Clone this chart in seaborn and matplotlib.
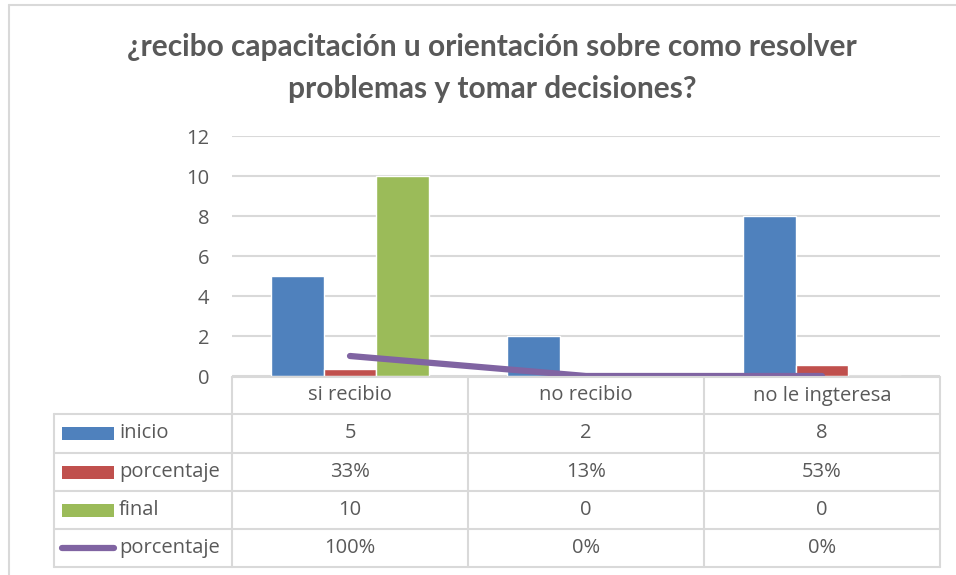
import matplotlib
matplotlib.use("Agg")
import matplotlib.pyplot as plt
from matplotlib.lines import Line2D
from matplotlib.patches import Rectangle
import seaborn as sns
import pandas as pd

categories = ["si recibio", "no recibio", "no le ingteresa"]
inicio = [5, 2, 8]
porcentaje_bar = [0.33, 0.13, 0.53]
final = [10, 0, 0]
porcentaje_line = [1.0, 0.0, 0.0]
series_names = ["inicio", "porcentaje", "final", "porcentaje"]
table_rows = [
    ["5", "2", "8"],
    ["33%", "13%", "53%"],
    ["10", "0", "0"],
    ["100%", "0%", "0%"],
]
title = "¿recibo capacitación u orientación sobre como resolver\nproblemas y tomar decisiones?"

C_BLUE = "#4F81BD"
C_RED = "#C0504D"
C_GREEN = "#9BBB59"
C_PURPLE = "#8064A2"
C_TEXT = "#595959"
C_GRID = "#D9D9D9"

sns.set_theme(style="white")
plt.rcParams["font.family"] = ["Lato", "DejaVu Sans"]

W, H = 956, 575
fig = plt.figure(figsize=(W / 100, H / 100), dpi=100)

def fx(px):
    return px / W

def fy(py):
    return 1 - py / H

# plot area
x0, x1, ytop, ybot = 232, 940, 136, 376
ax = fig.add_axes([fx(x0), fy(ybot), fx(x1 - x0), (ybot - ytop) / H])

df = pd.DataFrame({
    "cat": categories * 3,
    "val": inicio + porcentaje_bar + final,
    "series": ["inicio"] * 3 + ["porcentaje"] * 3 + ["final"] * 3,
})
sns.barplot(data=df, x="cat", y="val", hue="series", order=categories,
            hue_order=["inicio", "porcentaje", "final"],
            palette=[C_BLUE, C_RED, C_GREEN], width=0.67, gap=0,
            saturation=1, legend=False, ax=ax, zorder=3)
ax.plot(range(len(categories)), porcentaje_line, color=C_PURPLE, lw=4.5,
        solid_capstyle="round", zorder=4)

ax.set_xlim(-0.5, 2.5)
ax.set_ylim(0, 12)
ax.set_yticks(range(0, 13, 2))
ax.set_xticks([])
ax.set_xlabel("")
ax.set_ylabel("")
ax.yaxis.grid(True, color=C_GRID, lw=1.5, zorder=0)
ax.set_axisbelow(True)
for s in ax.spines.values():
    s.set_visible(False)
ax.tick_params(axis="y", length=0, pad=16.5, labelsize=14.5, labelcolor=C_TEXT)
for lab in ax.get_yticklabels():
    lab.set_fontfamily(["Open Sans", "DejaVu Sans"])

# title
fig.text(fx(492), fy(68), title, ha="center", va="center", fontsize=21.5,
         fontweight="bold", color=C_TEXT, linespacing=1.58)

# frame
fig.add_artist(Line2D([fx(9), fx(9)], [fy(5), fy(580)], color=C_GRID, lw=1.5))
fig.add_artist(Line2D([fx(9), fx(960)], [fy(5), fy(5)], color=C_GRID, lw=1.5))

# data table
col_x = [232, 468, 704, 940]
row_y = [377, 414, 453, 491, 529, 567]
left_x = 54

def hline(y, xa, xb):
    fig.add_artist(Line2D([fx(xa), fx(xb)], [fy(y), fy(y)], color=C_GRID, lw=1.5))

def vline(x, ya, yb):
    fig.add_artist(Line2D([fx(x), fx(x)], [fy(ya), fy(yb)], color=C_GRID, lw=1.5))

hline(row_y[0], col_x[0], col_x[-1])
for y in row_y[1:]:
    hline(y, left_x, col_x[-1])
for x in col_x:
    vline(x, row_y[0], row_y[-1])
vline(left_x, row_y[1], row_y[-1])

tfont = dict(fontsize=14.5, color=C_TEXT, family=["Open Sans", "DejaVu Sans"])
for i, c in enumerate(categories):
    cx = (col_x[i] + col_x[i + 1]) / 2
    fig.text(fx(cx), fy((row_y[0] + row_y[1]) / 2), c, ha="center", va="center", **tfont)

key_colors = [C_BLUE, C_RED, C_GREEN]
for r, name in enumerate(series_names):
    cy = (row_y[r + 1] + row_y[r + 2]) / 2
    if r < 3:
        fig.add_artist(Rectangle((fx(62), fy(cy + 6.5)), fx(52), 13 / H,
                                 color=key_colors[r], lw=0))
    else:
        fig.add_artist(Line2D([fx(62), fx(114)], [fy(cy), fy(cy)], color=C_PURPLE,
                              lw=4.5, solid_capstyle="round"))
    fig.text(fx(119), fy(cy), name, ha="left", va="center", **tfont)
    for i in range(3):
        cx = (col_x[i] + col_x[i + 1]) / 2
        fig.text(fx(cx), fy(cy), table_rows[r][i], ha="center", va="center", **tfont)

fig.savefig("out.png", dpi=100, facecolor="white")
